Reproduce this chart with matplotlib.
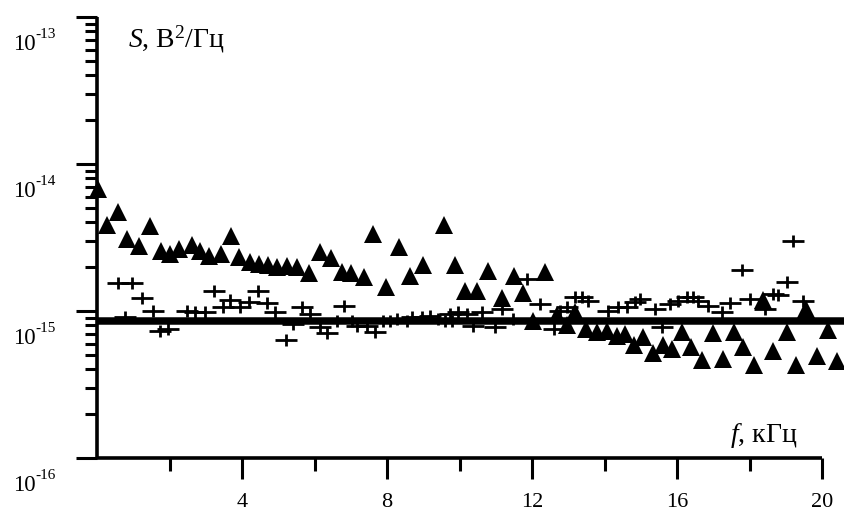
import matplotlib
matplotlib.use("Agg")
import matplotlib.pyplot as plt
from matplotlib.path import Path
from matplotlib.ticker import FixedLocator, NullFormatter, FixedFormatter
import numpy as np

plt.rcParams['font.family'] = ['Liberation Serif', 'DejaVu Serif']
plt.rcParams['mathtext.fontset'] = 'custom'
plt.rcParams['mathtext.rm'] = 'Liberation Serif'
plt.rcParams['mathtext.it'] = 'Liberation Serif:italic'

# ---- data (S in units of 1e-15 V^2/Hz, f in kHz) ----
tri_f = [0.03, 0.28, 0.58, 0.83, 1.16, 1.46, 1.77, 2.01, 2.26, 2.62, 2.84, 3.09, 3.42, 3.70,
         3.92, 4.22, 4.47, 4.72, 4.97, 5.24, 5.52, 5.85, 6.15, 6.46, 6.76, 7.01, 7.37, 7.61,
         7.97, 8.33, 8.63, 8.99, 9.57, 9.88, 10.15, 10.48, 10.79, 11.17, 11.50, 11.75, 12.03,
         12.36, 12.69, 12.97, 13.19, 13.49, 13.79, 14.07, 14.34, 14.57, 14.81, 15.06, 15.34,
         15.61, 15.86, 16.14, 16.39, 16.69, 16.99, 17.27, 17.57, 17.82, 18.12, 18.37, 18.65,
         19.03, 19.28, 19.55, 19.86, 20.17, 20.41]
tri_s = [6.76, 3.85, 4.71, 3.09, 2.77, 3.79, 2.56, 2.44, 2.64, 2.81, 2.56, 2.37, 2.44, 3.24,
         2.33, 2.15, 2.09, 2.06, 1.99, 2.02, 1.99, 1.81, 2.52, 2.29, 1.84, 1.81, 1.70, 3.34,
         1.46, 2.72, 1.73, 2.06, 3.85, 2.06, 1.37, 1.37, 1.87, 1.23, 1.73, 1.33, 0.855,
         1.84, 0.939, 0.803, 0.984, 0.754, 0.720, 0.731, 0.676, 0.698, 0.587, 0.666, 0.518,
         0.587, 0.551, 0.720, 0.569, 0.464, 0.709, 0.471, 0.720, 0.569, 0.429, 1.19, 0.534,
         0.720, 0.429, 1.03, 0.494, 0.742, 0.457]

plus_f = [0.58, 0.97, 1.24, 0.77, 1.54, 1.74, 1.96, 2.48, 2.70, 2.98, 3.23, 3.48, 3.67, 3.94,
          4.19, 4.44, 4.69, 4.91, 5.21, 5.41, 5.66, 5.88, 6.15, 6.34, 6.62, 6.81, 7.03, 7.17,
          7.45, 7.67, 7.89, 8.08, 8.28, 8.55, 8.69, 8.97, 9.19, 9.41, 9.60, 9.74, 9.79, 9.96,
          10.21, 10.37, 10.62, 10.98, 11.17, 11.48, 11.86, 12.22, 12.61, 12.77, 12.97, 13.19,
          13.38, 13.54, 14.10, 14.37, 14.62, 14.84, 14.98, 15.39, 15.59, 15.81, 16.03, 16.28,
          16.44, 16.58, 16.86, 17.24, 17.46, 17.79, 18.01, 18.43, 18.65, 18.79, 19.03, 19.20,
          19.48]
plus_s = [1.55, 1.55, 1.23, 0.91, 1.00, 0.731, 0.754, 1.00, 0.984, 0.984, 1.37, 1.065, 1.19,
          1.065, 1.15, 1.37, 1.13, 0.984, 0.635, 0.816, 1.065, 0.954, 0.778, 0.709, 0.86,
          1.08, 0.86, 0.791, 0.791, 0.720, 0.86, 0.86, 0.882, 0.86, 0.91, 0.91, 0.925, 0.882,
          0.86, 0.954, 0.86, 0.984, 0.954, 0.791, 0.984, 0.778, 1.03, 0.882, 1.65, 1.12,
          0.754, 1.00, 1.065, 1.245, 1.245, 1.17, 1.00, 1.065, 1.065, 1.15, 1.21, 1.03, 0.778,
          1.12, 1.17, 1.245, 1.245, 1.17, 1.08, 0.984, 1.13, 1.90, 1.21, 1.03, 1.31, 1.285,
          1.575, 2.99, 1.17]

floor_f = [0.0, 20.6]
floor_s = [0.86, 0.86]

unit = 1e-15
x_major = [4, 8, 12, 16, 20]
x_minor = [2, 6, 10, 14, 18]
y_decades = [-16, -15, -14, -13]

fig = plt.figure(figsize=(8.44, 5.13), dpi=100)
ax = fig.add_axes([97 / 844, 1 - 458 / 513, 725 / 844, 441 / 513])
ax.set_yscale('log')
ax.set_xlim(0, 20)
ax.set_ylim(1e-16, 1e-13)

ax.plot(floor_f, np.array(floor_s) * unit, color='black', lw=5.4,
        solid_capstyle='butt', clip_on=False, zorder=2)

plus_marker = Path([(-1, 0), (1, 0), (0, -0.6), (0, 0.6)],
                   [Path.MOVETO, Path.LINETO, Path.MOVETO, Path.LINETO])
ax.plot(plus_f, np.array(plus_s) * unit, linestyle='none', marker=plus_marker,
        markersize=15.5, markeredgewidth=2.0, color='black', clip_on=False, zorder=3)
ax.plot(tri_f, np.array(tri_s) * unit, linestyle='none', marker='^',
        markersize=13, color='black', markeredgewidth=0, clip_on=False, zorder=4)

for sp in ['top', 'right']:
    ax.spines[sp].set_visible(False)
for sp in ['left', 'bottom']:
    ax.spines[sp].set_linewidth(2.6)
    ax.spines[sp].set_capstyle('butt')

ax.xaxis.set_major_locator(FixedLocator(x_major))
ax.xaxis.set_minor_locator(FixedLocator(x_minor))
ax.xaxis.set_major_formatter(FixedFormatter([str(v) for v in x_major]))
ax.xaxis.set_minor_formatter(NullFormatter())

ax.yaxis.set_major_locator(FixedLocator([10.0 ** d for d in y_decades]))
ax.yaxis.set_minor_locator(FixedLocator([m * 10.0 ** d for d in y_decades[:-1] for m in range(2, 10)]))
ax.yaxis.set_major_formatter(NullFormatter())
ax.yaxis.set_minor_formatter(NullFormatter())

ax.tick_params(which='major', direction='out', length=15, width=2.2, labelsize=16, pad=10)
ax.tick_params(which='minor', direction='out', length=9, width=2.2)

# y tick labels: "10" with superscript exponent
for d in y_decades:
    ax.annotate("10", xy=(0, 10.0 ** d), xycoords=('axes fraction', 'data'),
                xytext=(-60.5, -23.8), textcoords='offset points',
                ha='left', va='baseline', fontsize=16.5, annotation_clip=False)
    ax.annotate(str(d), xy=(0, 10.0 ** d), xycoords=('axes fraction', 'data'),
                xytext=(-44.3, -15.1), textcoords='offset points',
                ha='left', va='baseline', fontsize=11, annotation_clip=False)

fig.text(128 / 844, 1 - 47 / 513, r"$S$, В$^{2}$/Гц", ha='left', va='baseline', fontsize=20)
fig.text(730 / 844, 1 - 442 / 513, r"$f$, кГц", ha='left', va='baseline', fontsize=20)

fig.savefig("out.png", dpi=100)
